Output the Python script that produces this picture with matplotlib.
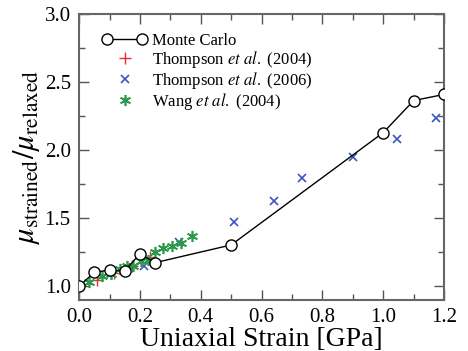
import matplotlib
matplotlib.use("Agg")
import matplotlib.pyplot as plt
from matplotlib.ticker import MultipleLocator
from matplotlib.legend_handler import HandlerLine2D

plt.rcParams['font.family'] = ['Liberation Serif', 'DejaVu Serif']
plt.rcParams['mathtext.fontset'] = 'stix'

# Monte Carlo
mc_x = [0.0, 0.05, 0.10, 0.15, 0.20, 0.25, 0.50, 1.00, 1.10, 1.20]
mc_y = [1.00, 1.105, 1.12, 1.115, 1.24, 1.175, 1.305, 2.13, 2.365, 2.41]

# Thompson et al. (2004)
t04_x = [0.0, 0.058, 0.115, 0.173, 0.234]
t04_y = [1.00, 1.05, 1.10, 1.147, 1.215]

# Thompson et al. (2006)
t06_x = [0.0, 0.215, 0.33, 0.51, 0.64, 0.732, 0.90, 1.046, 1.172]
t06_y = [1.00, 1.147, 1.326, 1.476, 1.627, 1.797, 1.95, 2.083, 2.238]

# Wang et al. (2004)
w_x = [0.0, 0.034, 0.075, 0.105, 0.135, 0.157, 0.177, 0.203, 0.225,
       0.25, 0.277, 0.307, 0.334, 0.37]
w_y = [1.00, 1.032, 1.076, 1.088, 1.13, 1.147, 1.154, 1.19, 1.198,
       1.252, 1.28, 1.297, 1.322, 1.37]

fig = plt.figure(figsize=(4.68, 3.51), dpi=100)
ax = fig.add_axes([0.169, 0.145, 0.780, 0.815])

mc, = ax.plot(mc_x, mc_y, '-o', color='black', lw=1.0, ms=8,
              mfc='white', mec='black', mew=1.0, label='Monte Carlo', zorder=4)
t04, = ax.plot(t04_x, t04_y, '+', color='#e8303a', ms=8, mew=1.0, ls='none',
               label=r'Thompson $\it{et\ al.}$ (2004)', zorder=3)
t06, = ax.plot(t06_x, t06_y, 'x', color='#3a55c0', ms=6, mew=1.2, ls='none',
               label=r'Thompson $\it{et\ al.}$ (2006)', zorder=3)
wg, = ax.plot(w_x, w_y, marker=(6, 2, 0), color='#2a9a4a', ms=8, mew=1.2, ls='none',
              label=r'Wang $\it{et\ al.}$ (2004)', zorder=3)

ax.set_xlim(0, 1.2)
ax.set_ylim(0.9, 3.0)
ax.xaxis.set_major_locator(MultipleLocator(0.2))
ax.xaxis.set_minor_locator(MultipleLocator(0.1))
ax.yaxis.set_major_locator(MultipleLocator(0.5))
ax.yaxis.set_minor_locator(MultipleLocator(0.25))
ax.tick_params(which='both', direction='in', top=True, right=True,
               labelsize=15, color='#555555')
ax.tick_params(which='major', length=7, width=1.0, pad=6)
ax.tick_params(which='minor', length=4, width=1.0)
for s in ax.spines.values():
    s.set_color('#666666')
    s.set_linewidth(1.5)

ax.set_xlabel('Uniaxial Strain [GPa]', fontsize=20, labelpad=0)
ax.set_ylabel(r'$\mu_{\rm strained}/\mu_{\rm relaxed}$', fontsize=22, labelpad=2)

one = HandlerLine2D(numpoints=1)
ax.legend(handles=[mc, t04, t06, wg], loc='upper left',
          bbox_to_anchor=(0.063, 0.934), frameon=False, borderpad=0,
          fontsize=12, numpoints=2, handlelength=2.7, handletextpad=0.3,
          labelspacing=0.0, borderaxespad=0,
          handler_map={t04: one, t06: one, wg: one})

fig.savefig('out.png', dpi=100)
